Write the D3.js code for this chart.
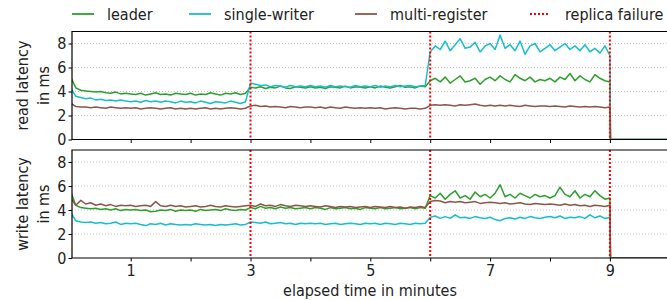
<html>
<head>
  <style type="text/css">
    body { margin: 0; background: #fff; }
    text { font-family: "DejaVu Sans Condensed", "DejaVu Sans", sans-serif; fill: #222; }
  </style>
</head>
<body>
  <div id="viz"></div>
  <script src="https://cdnjs.cloudflare.com/ajax/libs/d3/7.8.5/d3.min.js"></script>
  <script>
  // samples every 5 seconds from 0 to 9 minutes, then the cluster is gone (0)
  const stepMinutes = 5 / 60;
  const times = d3.range(109).map(i => i * stepMinutes).concat([9.01, 10]);

  const seriesNames = ['leader', 'single-writer', 'multi-register'];
  const failures = [3, 6, 9];
  const yTicks = [0, 2, 4, 6, 8];
  const xTicks = [1, 2, 3, 4, 5, 6, 7, 8, 9];

  // read latency (ms)
  const readLeader = [
    5.2,4.3,4.1,4.05,4.0,3.95,4.0,3.9,3.85,3.95,3.8,3.85,
    3.8,3.75,3.85,3.7,3.8,3.9,3.75,3.8,3.7,3.85,3.8,3.75,
    3.85,3.7,3.8,3.75,3.9,3.8,3.7,3.85,3.8,3.9,3.75,3.85,
    4.35,4.3,4.4,4.25,4.35,4.3,4.45,4.3,4.25,4.4,4.35,4.3,
    4.4,4.3,4.35,4.25,4.4,4.35,4.3,4.45,4.3,4.4,4.35,4.3,
    4.4,4.3,4.45,4.35,4.3,4.4,4.5,4.35,4.4,4.3,4.45,4.4,
    4.9,5.1,4.8,5.2,4.7,5.0,5.3,4.8,4.9,5.1,4.6,5.0,
    5.2,4.9,5.3,5.0,4.8,5.4,5.1,4.9,5.2,4.8,5.0,4.9,
    5.1,4.8,5.2,5.0,5.5,4.9,5.3,5.0,4.8,5.4,5.1,4.9,
    4.8,0,0];
  const readSingle = [
    4.3,3.6,3.5,3.4,3.45,3.3,3.35,3.25,3.3,3.2,3.3,3.2,
    3.15,3.2,3.1,3.25,3.15,3.2,3.1,3.2,3.15,3.05,3.2,3.1,
    3.15,3.05,3.2,3.1,3.0,3.15,3.1,3.05,3.2,3.1,3.0,3.15,
    4.7,4.6,4.5,4.55,4.4,4.5,4.45,4.35,4.5,4.4,4.45,4.4,
    4.5,4.4,4.45,4.35,4.5,4.4,4.45,4.4,4.35,4.5,4.4,4.45,
    4.4,4.5,4.35,4.45,4.4,4.5,4.4,4.45,4.5,4.4,4.45,4.5,
    7.3,7.8,7.5,8.2,7.4,7.9,8.4,7.6,7.7,8.1,7.3,7.8,
    8.0,7.5,8.7,7.6,7.9,7.4,8.2,7.1,7.8,8.0,7.3,7.6,
    7.9,7.4,7.7,8.0,7.5,7.8,7.4,7.9,7.3,7.6,7.2,7.8,
    7.0,0,0];
  const readMulti = [
    3.0,2.75,2.7,2.7,2.65,2.7,2.65,2.6,2.7,2.65,2.6,2.65,
    2.6,2.65,2.55,2.6,2.65,2.6,2.55,2.6,2.65,2.55,2.6,2.55,
    2.6,2.55,2.6,2.65,2.55,2.6,2.55,2.6,2.65,2.6,2.55,2.6,
    2.8,2.85,2.75,2.8,2.7,2.75,2.7,2.65,2.75,2.7,2.65,2.7,
    2.7,2.65,2.7,2.6,2.7,2.65,2.6,2.7,2.65,2.6,2.65,2.6,
    2.65,2.6,2.65,2.55,2.6,2.65,2.6,2.55,2.6,2.6,2.55,2.6,
    2.85,2.9,2.85,2.9,2.85,2.8,2.9,2.85,2.9,2.95,2.85,2.8,
    2.85,2.8,2.85,2.8,2.85,2.8,2.75,2.85,2.8,2.75,2.8,2.8,
    2.75,2.8,2.75,2.7,2.8,2.75,2.7,2.75,2.7,2.75,2.7,2.65,
    2.7,0,0];

  // write latency (ms)
  const writeLeader = [
    5.5,4.4,4.2,4.15,4.1,4.15,4.05,4.1,4.0,4.1,3.95,4.05,
    4.0,4.05,3.95,4.0,3.85,3.9,4.0,3.95,4.05,3.9,4.0,3.95,
    4.0,3.9,4.05,3.95,4.0,4.05,3.95,4.1,4.0,3.95,4.05,4.0,
    4.2,4.1,4.3,4.15,4.2,4.1,4.25,4.15,4.2,4.1,4.15,4.2,
    4.1,4.2,4.15,4.05,4.2,4.1,4.15,4.2,4.1,4.15,4.05,4.2,
    4.15,4.1,4.2,4.1,4.15,4.2,4.1,4.15,4.2,4.1,4.2,4.15,
    5.2,5.0,5.4,4.9,5.3,5.6,5.0,5.2,4.9,5.5,5.1,5.3,
    5.0,5.4,6.1,5.1,5.3,5.0,5.4,5.2,5.0,5.3,5.1,5.2,
    5.0,5.2,5.9,5.3,5.1,5.6,5.0,5.3,5.1,5.6,5.2,4.9,
    5.0,0,0];
  const writeSingle = [
    3.8,3.1,3.0,2.95,3.0,2.9,2.95,2.85,2.9,3.0,2.8,2.9,
    2.85,2.9,2.8,2.7,2.85,2.8,2.9,2.75,2.85,2.8,2.75,2.8,
    2.75,2.85,2.8,2.75,2.8,2.7,2.8,2.75,2.8,2.85,2.75,2.8,
    3.0,2.95,2.9,3.0,2.85,2.9,2.95,2.85,2.9,2.8,2.9,2.85,
    2.9,2.85,2.9,2.8,2.85,2.9,2.8,2.85,2.9,2.85,2.8,2.9,
    2.85,2.9,2.8,2.9,2.85,2.8,2.9,2.85,2.8,2.9,2.85,2.9,
    3.4,3.5,3.3,3.45,3.3,3.6,3.35,3.4,3.3,3.45,3.35,3.3,
    3.4,3.2,3.1,3.3,3.35,3.25,3.4,3.3,3.45,3.35,3.3,3.4,
    3.45,3.35,3.5,3.3,3.4,3.35,3.45,3.3,3.6,3.35,3.5,3.3,
    3.4,0,0];
  const writeMulti = [
    5.0,4.4,4.8,4.5,4.6,4.4,4.5,4.35,4.45,4.3,4.4,4.35,
    4.4,4.3,4.35,4.4,4.3,4.7,4.35,4.3,4.4,4.3,4.35,4.25,
    4.3,4.35,4.25,4.3,4.4,4.3,4.25,4.35,4.3,4.25,4.3,4.35,
    4.4,4.3,4.5,4.35,4.4,4.3,4.45,4.35,4.3,4.4,4.35,4.3,
    4.35,4.3,4.25,4.35,4.3,4.2,4.3,4.25,4.3,4.2,4.25,4.3,
    4.2,4.3,4.25,4.2,4.3,4.2,4.25,4.15,4.25,4.2,4.3,4.2,
    4.7,4.8,4.75,4.6,4.7,4.65,4.7,4.6,4.65,4.7,4.55,4.6,
    4.65,4.6,4.55,4.6,4.5,4.55,4.6,4.5,4.45,4.55,4.5,4.45,
    4.5,4.45,4.4,4.5,4.4,4.45,4.35,4.4,4.3,4.4,4.35,4.3,
    4.4,0,0];

  const colors = ['#2ca02c', '#17becf', '#8c564b'];

  const panels = [
    { label: ['read latency', 'in ms'], series: [readLeader, readSingle, readMulti], top: 31.5 },
    { label: ['write latency', 'in ms'], series: [writeLeader, writeSingle, writeMulti], top: 150 }
  ];

  const width = 667, height = 300;
  const panelH = 108;
  const left = 72;
  const fs = '16px';

  const x = d3.scaleLinear().domain([0.02, 10]).range([left, left + 9.98 * 59.9]);

  const svg = d3.select('#viz').append('svg')
    .attr('width', width)
    .attr('height', height);

  svg.append('defs').append('clipPath').attr('id', 'clip')
    .append('rect').attr('x', left).attr('y', 0)
    .attr('width', width - left).attr('height', panelH);

  panels.forEach((p, pi) => {
    const y = d3.scaleLinear().domain([0, 9]).range([panelH, 0]);
    const g = svg.append('g').attr('transform', 'translate(0,' + p.top + ')');

    // grid
    g.append('g').selectAll('line').data(yTicks.filter(d => d > 0)).enter().append('line')
      .attr('x1', left).attr('x2', width)
      .attr('y1', d => y(d)).attr('y2', d => y(d))
      .attr('stroke', '#b0b0b0').attr('stroke-width', 0.8)
      .attr('stroke-dasharray', '1,2');

    // lines
    const line = d3.line().x((d, i) => x(times[i])).y(d => y(d));
    const lg = g.append('g').attr('clip-path', 'url(#clip)');
    p.series.forEach((s, si) => {
      lg.append('path').datum(s)
        .attr('d', line)
        .attr('fill', 'none')
        .attr('stroke', colors[si])
        .attr('stroke-width', 1.5)
        .attr('stroke-linejoin', 'round');
    });

    // replica failures
    g.append('g').selectAll('line').data(failures).enter().append('line')
      .attr('x1', d => x(d)).attr('x2', d => x(d))
      .attr('y1', 0).attr('y2', panelH)
      .attr('stroke', 'red').attr('stroke-width', 2)
      .attr('stroke-dasharray', '2,2');

    // axes
    const yAxis = d3.axisLeft(y).tickValues(yTicks).tickSize(3.5).tickPadding(2);
    const ya = g.append('g').attr('transform', 'translate(' + left + ',0)').call(yAxis);
    ya.select('.domain').remove();
    ya.selectAll('text').style('font-size', fs).attr('fill', '#222');

    const xAxis = d3.axisBottom(x).tickValues(xTicks).tickSize(3.5).tickPadding(3)
      .tickFormat(d => d % 2 === 1 ? d : '');
    const xa = g.append('g').attr('transform', 'translate(0,' + panelH + ')').call(xAxis);
    xa.select('.domain').remove();
    xa.selectAll('text').style('font-size', fs).attr('fill', '#222');
    if (pi === 0) xa.selectAll('text').remove();

    // frame (right side falls outside the picture)
    g.append('path')
      .attr('d', 'M' + width + ',0H' + left + 'V' + panelH + 'H' + width)
      .attr('fill', 'none').attr('stroke', '#000').attr('stroke-width', 1.2);

    // y label
    const lab = g.append('text')
      .attr('transform', 'translate(0,' + (panelH / 2) + ') rotate(-90)')
      .attr('text-anchor', 'middle')
      .style('font-size', fs);
    lab.append('tspan').attr('x', 0).attr('y', 28).text(p.label[0]);
    lab.append('tspan').attr('x', 0).attr('y', 49).text(p.label[1]);
  });

  svg.append('text')
    .attr('x', 370).attr('y', 296)
    .attr('text-anchor', 'middle')
    .style('font-size', fs)
    .text('elapsed time in minutes');

  // legend, spread across the axes width
  const legendItems = [
    { name: seriesNames[0], color: colors[0], x: 72, dash: null },
    { name: seriesNames[1], color: colors[1], x: 189, dash: null },
    { name: seriesNames[2], color: colors[2], x: 355, dash: null },
    { name: 'replica failure', color: 'red', x: 530, dash: '2,2' }
  ];
  const leg = svg.append('g').selectAll('g').data(legendItems).enter().append('g')
    .attr('transform', d => 'translate(' + d.x + ',14)');
  leg.append('line')
    .attr('x1', 0).attr('x2', d => d.dash ? 20 : 22)
    .attr('stroke', d => d.color)
    .attr('stroke-width', d => d.dash ? 2 : 1.8)
    .attr('stroke-dasharray', d => d.dash);
  leg.append('text')
    .attr('x', 35).attr('dy', '0.35em')
    .style('font-size', fs)
    .text(d => d.name);
  </script>
</body>
</html>
